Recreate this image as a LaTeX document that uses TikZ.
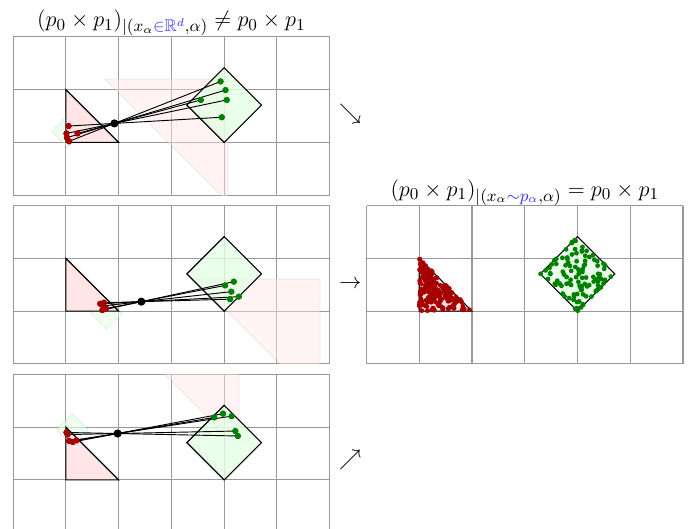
\documentclass[tikz,border=0pt]{standalone}
\usepackage{amsmath,amssymb}
\usepackage{tikz}
\usetikzlibrary{calc,positioning}

% one panel: prefix, yshift, centre of alpha, scale of alpha, red samples x/y
\newcommand{\alphapanel}[5]{%
  \begin{scope}[yshift=#2cm]
    \draw[gridline] (0,0) grid (6,3);
    \coordinate (#1c) at (#3);
    \pgfmathsetmacro\invscale{1/(#4)}
    \begin{scope}
      \clip (0,0) rectangle (6,3);
      \path[ghosttri] ($(#1c)!#4!(1,1)$) -- ($(#1c)!#4!(1,2)$) -- ($(#1c)!#4!(2,1)$) -- cycle;
      \path[ghostdia] ($(#1c)!\invscale!(4,1)$) -- ($(#1c)!\invscale!(4.7071,1.7071)$)
        -- ($(#1c)!\invscale!(4,2.4142)$) -- ($(#1c)!\invscale!(3.2929,1.7071)$) -- cycle;
    \end{scope}
    \draw[tri] (1,1) -- (1,2) -- (2,1) -- cycle;
    \draw[dia] (4,1) -- (4.7071,1.7071) -- (4,2.4142) -- (3.2929,1.7071) -- cycle;
    \foreach \x/\y [count=\i] in {#5} {
      \node[rdot] (#1r\i) at (\x,\y) {};
      \node[gdot] (#1g\i) at ($(#1c)!#4!(\x,\y)$) {};
      \draw[ray] (#1r\i.center) -- (#1g\i.center);
    }
    \foreach \x/\y [count=\i] in {#5} {
      \node[rdot] at (#1r\i) {};
      \node[gdot] at (#1g\i) {};
    }
    \node[cdot] (#1x) at (#1c) {};
  \end{scope}
}

\begin{document}
\begin{tikzpicture}[font=\large,
   gridline/.style={draw=gray!80,line width=0.6pt},
   tri/.style={draw=black,fill=red!10,line width=0.6pt},
   dia/.style={draw=black,fill=green!10,fill opacity=0.8,line width=0.6pt},
   ghosttri/.style={draw=black,draw opacity=0.08,fill=red!10,fill opacity=0.45},
   ghostdia/.style={draw=black,draw opacity=0.08,fill=green!10,fill opacity=0.6},
   rdot/.style={circle,fill=red!65!black,inner sep=0pt,minimum size=3.3pt},
   gdot/.style={circle,fill=green!50!black,inner sep=0pt,minimum size=3.3pt},
   sdot/.style={circle,inner sep=0pt,minimum size=2.6pt},
   cdot/.style={circle,fill=black,inner sep=0pt,minimum size=4.4pt},
   ray/.style={draw=black,line width=0.5pt},
   title/.style={anchor=base,font=\fontsize{13pt}{15pt}\selectfont}]
  \useasboundingbox (-0.25,0.08) rectangle (12.89,10.1);

  \alphapanel{a}{6.4}{1.92,1.36}{-2.34}{1.05/1.31,1.01/1.17,1.22/1.17,1.02/1.09,1.06/1.02}
  \alphapanel{b}{3.2}{2.43,1.18}{-2.37}{1.76/1.05,1.69/1.02,1.71/1.10,1.65/1.14,1.72/1.16}
  \alphapanel{c}{0}{1.98,1.88}{-2.35}{1.01/1.90,1.03/1.86,1.06/1.74,1.13/1.72,1.20/1.75}

  \node[title] (t1) at (3,9.59)
    {$(p_0\times p_1)_{|(x_\alpha{\color{blue!80}\in\mathbb{R}^d},\alpha)}\neq p_0\times p_1$};

  \node (m1) at (6.39,7.93) {$\searrow$};
  \node (m2) at (6.39,4.71) {$\rightarrow$};
  \node (m3) at (6.39,1.37) {$\nearrow$};

  \begin{scope}[xshift=6.7cm,yshift=3.2cm]
    \draw[gridline] (0,0) grid (6,3);
    \draw[tri] (1,1) -- (1,2) -- (2,1) -- cycle;
    \draw[dia] (4,1) -- (4.7071,1.7071) -- (4,2.4142) -- (3.2929,1.7071) -- cycle;
    \pgfmathsetseed{11}
    \foreach \i in {1,...,170} {
      \pgfmathsetmacro\ua{rnd}\pgfmathsetmacro\ub{rnd}
      \node[sdot,fill=red!65!black] (s\i) at ({1+min(\ua,\ub)},{2-max(\ua,\ub)}) {};
    }
    \foreach \i in {1,...,110} {
      \pgfmathsetmacro\ua{rnd}\pgfmathsetmacro\ub{rnd}
      \node[sdot,fill=green!50!black] (d\i) at ({4+0.7071*(\ua-\ub)},{1+0.7071*(\ua+\ub)}) {};
    }
  \end{scope}
  \node[title] (t2) at (9.7,6.38)
    {$(p_0\times p_1)_{|(x_\alpha{\color{blue!80}\sim p_\alpha},\alpha)}=p_0\times p_1$};
\end{tikzpicture}
\end{document}
